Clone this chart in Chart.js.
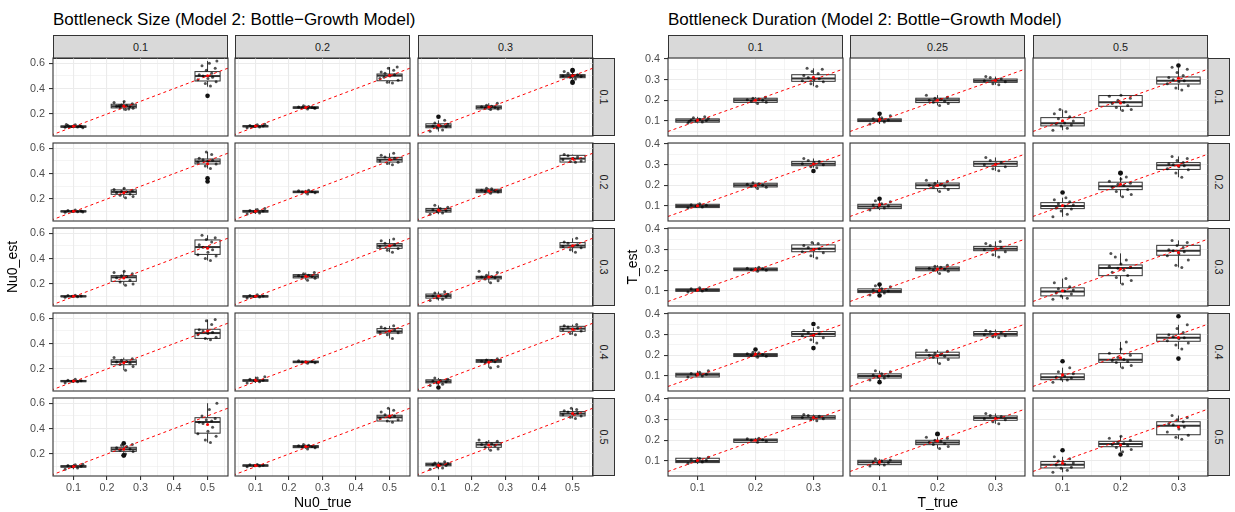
<!DOCTYPE html>
<html>
<head>
<meta charset="utf-8">
<script src="https://cdn.jsdelivr.net/npm/chart.js@4.4.1/dist/chart.umd.min.js"></script>
<style>
html,body{margin:0;padding:0;background:#fff;}
#fig{position:relative;width:1235px;height:512px;overflow:hidden;font-family:"Liberation Sans",Arial,sans-serif;}
#fig canvas{position:absolute;}
.title{position:absolute;font-size:17px;line-height:17px;color:#000;white-space:nowrap;}
.strip{position:absolute;box-sizing:border-box;background:#D9D9D9;border:1px solid #333;color:#1A1A1A;font-size:10.8px;display:flex;align-items:center;justify-content:center;}
.strip.v span{display:block;transform:rotate(90deg);white-space:nowrap;}
.axt{position:absolute;font-size:14px;line-height:16px;white-space:nowrap;color:#000;text-align:center;}
</style>
</head>
<body>
<div id="fig"></div>
<script>
// ---------- facet labels, categories and ticks ----------
const rowLabels = ['0.1', '0.2', '0.3', '0.4', '0.5'];
const sizeColLabels = ['0.1', '0.2', '0.3'];
const durColLabels = ['0.1', '0.25', '0.5'];
const sizeTrue = [0.1, 0.25, 0.5];
const durTrue = [0.1, 0.2, 0.3];
const sizeXTicks = [0.1, 0.2, 0.3, 0.4, 0.5];
const sizeXTickLabels = ['0.1', '0.2', '0.3', '0.4', '0.5'];
const sizeXMinor = [0.05, 0.15, 0.25, 0.35, 0.45, 0.55];
const sizeYTicks = [0.2, 0.4, 0.6];
const sizeYTickLabels = ['0.2', '0.4', '0.6'];
const sizeYMinor = [0.1, 0.3, 0.5];
const durXTicks = [0.1, 0.2, 0.3];
const durXTickLabels = ['0.1', '0.2', '0.3'];
const durXMinor = [0.05, 0.15, 0.25, 0.35];
const durYTicks = [0.1, 0.2, 0.3, 0.4];
const durYTickLabels = ['0.1', '0.2', '0.3', '0.4'];
const durYMinor = [0.05, 0.15, 0.25, 0.35];

// ---------- Bottleneck size: box stats [lower whisker, Q1, median, Q3, upper whisker] per row / column / box ----------
const sizeStats = [
  [[[0.088,0.096,0.101,0.106,0.118],[0.228,0.248,0.261,0.277,0.300],[0.415,0.460,0.499,0.534,0.618]],
   [[0.090,0.099,0.104,0.108,0.120],[0.238,0.245,0.251,0.256,0.268],[0.440,0.462,0.502,0.515,0.570]],
   [[0.062,0.092,0.105,0.123,0.150],[0.232,0.240,0.253,0.264,0.285],[0.470,0.486,0.499,0.510,0.535]]],
  [[[0.092,0.099,0.103,0.107,0.115],[0.210,0.237,0.256,0.272,0.285],[0.440,0.476,0.497,0.515,0.570]],
   [[0.082,0.097,0.104,0.110,0.125],[0.238,0.250,0.256,0.262,0.272],[0.470,0.491,0.510,0.528,0.560]],
   [[0.080,0.097,0.110,0.126,0.150],[0.245,0.250,0.264,0.277,0.285],[0.490,0.491,0.518,0.544,0.550]]],
  [[[0.095,0.100,0.103,0.107,0.112],[0.190,0.221,0.253,0.266,0.300],[0.385,0.433,0.491,0.547,0.584]],
   [[0.090,0.098,0.103,0.108,0.115],[0.230,0.248,0.261,0.274,0.290],[0.450,0.481,0.502,0.518,0.555]],
   [[0.070,0.089,0.105,0.121,0.140],[0.210,0.240,0.253,0.261,0.300],[0.450,0.486,0.502,0.526,0.560]]],
  [[[0.090,0.100,0.105,0.110,0.120],[0.190,0.234,0.256,0.272,0.290],[0.430,0.441,0.483,0.513,0.590]],
   [[0.090,0.104,0.110,0.115,0.140],[0.245,0.250,0.256,0.262,0.268],[0.440,0.483,0.497,0.518,0.540]],
   [[0.070,0.091,0.102,0.115,0.130],[0.210,0.253,0.264,0.274,0.280],[0.470,0.497,0.518,0.536,0.550]]],
  [[[0.080,0.097,0.102,0.108,0.120],[0.200,0.221,0.237,0.253,0.275],[0.290,0.364,0.452,0.486,0.600]],
   [[0.098,0.104,0.110,0.114,0.118],[0.240,0.250,0.258,0.266,0.275],[0.450,0.460,0.489,0.505,0.560]],
   [[0.080,0.107,0.118,0.128,0.140],[0.230,0.253,0.274,0.290,0.310],[0.480,0.500,0.518,0.534,0.560]]]
];
// individual estimates (jittered)
const sizePts = [
  [[[0.095,0.098,0.101,0.104,0.110,0.115,0.092,0.100,0.107,0.118],[0.235,0.245,0.250,0.258,0.262,0.268,0.272,0.280,0.290,0.298,0.240,0.265],[0.420,0.440,0.455,0.470,0.480,0.490,0.500,0.510,0.520,0.545,0.560,0.580,0.600,0.618]],
   [[0.092,0.098,0.102,0.105,0.110,0.115,0.120,0.100],[0.240,0.245,0.250,0.252,0.256,0.260,0.265,0.248],[0.445,0.450,0.465,0.480,0.500,0.510,0.520,0.530,0.545,0.560,0.570,0.490]],
   [[0.065,0.075,0.090,0.100,0.105,0.110,0.120,0.130,0.150],[0.235,0.240,0.248,0.252,0.258,0.262,0.270,0.285],[0.475,0.490,0.495,0.500,0.505,0.510,0.520,0.535]]],
  [[[0.095,0.100,0.103,0.105,0.110,0.113,0.098],[0.210,0.220,0.230,0.240,0.250,0.255,0.260,0.265,0.275,0.285],[0.440,0.460,0.475,0.490,0.500,0.505,0.510,0.520,0.550,0.570]],
   [[0.082,0.090,0.100,0.105,0.110,0.118,0.125],[0.240,0.250,0.255,0.260,0.265,0.270],[0.470,0.480,0.490,0.500,0.510,0.520,0.530,0.545,0.560]],
   [[0.080,0.090,0.100,0.108,0.115,0.125,0.135,0.150],[0.245,0.255,0.260,0.265,0.270,0.280,0.285],[0.490,0.495,0.500,0.510,0.520,0.530,0.540,0.550]]],
  [[[0.096,0.100,0.103,0.105,0.110,0.112],[0.190,0.200,0.215,0.230,0.250,0.260,0.265,0.280,0.290,0.300],[0.385,0.400,0.420,0.430,0.450,0.470,0.490,0.510,0.530,0.550,0.565,0.584]],
   [[0.090,0.097,0.102,0.106,0.110,0.115],[0.230,0.245,0.255,0.260,0.265,0.270,0.280,0.290],[0.450,0.465,0.480,0.495,0.500,0.510,0.520,0.540,0.555]],
   [[0.070,0.080,0.090,0.100,0.105,0.110,0.120,0.130,0.140],[0.210,0.225,0.240,0.250,0.255,0.260,0.270,0.290,0.300],[0.450,0.470,0.485,0.495,0.500,0.510,0.520,0.530,0.560]]],
  [[[0.092,0.100,0.104,0.108,0.112,0.120],[0.190,0.220,0.235,0.245,0.255,0.260,0.270,0.280,0.290],[0.430,0.440,0.450,0.470,0.480,0.490,0.500,0.510,0.550,0.580,0.590]],
   [[0.090,0.100,0.108,0.112,0.120,0.130,0.140],[0.245,0.250,0.255,0.260,0.265],[0.440,0.470,0.485,0.490,0.500,0.510,0.520,0.530,0.540]],
   [[0.070,0.080,0.090,0.100,0.105,0.110,0.120,0.130],[0.210,0.220,0.250,0.258,0.262,0.268,0.272,0.280],[0.470,0.480,0.500,0.510,0.515,0.520,0.530,0.540,0.550]]],
  [[[0.080,0.090,0.100,0.104,0.110,0.115,0.120],[0.200,0.220,0.230,0.240,0.250,0.260,0.270,0.275],[0.290,0.310,0.340,0.360,0.380,0.410,0.440,0.450,0.460,0.470,0.480,0.500,0.550,0.600]],
   [[0.100,0.105,0.108,0.112,0.116,0.118],[0.240,0.250,0.255,0.260,0.265,0.270,0.275],[0.450,0.460,0.470,0.480,0.490,0.500,0.510,0.530,0.545,0.560]],
   [[0.080,0.090,0.100,0.110,0.115,0.120,0.125,0.130,0.140],[0.230,0.240,0.255,0.265,0.275,0.280,0.290,0.300,0.310],[0.480,0.490,0.500,0.510,0.515,0.520,0.530,0.540,0.550,0.560]]]
];
// outlying estimates beyond the whiskers
const sizeOut = [
  [[[],[],[0.343]],[[],[],[]],[[0.179],[],[0.446,0.453,0.547,0.540]]],
  [[[],[],[0.364,0.338]],[[],[],[]],[[],[],[]]],
  [[[],[],[]],[[],[],[]],[[],[],[]]],
  [[[],[],[]],[[],[],[]],[[0.055],[],[]]],
  [[[],[0.190,0.188,0.285],[]],[[],[],[]],[[],[],[]]]
];

// ---------- Bottleneck duration ----------
const durStats = [
  [[[0.088,0.094,0.102,0.110,0.120],[0.185,0.190,0.200,0.210,0.215],[0.268,0.292,0.306,0.324,0.355]],
   [[0.085,0.097,0.103,0.110,0.125],[0.175,0.189,0.200,0.210,0.225],[0.275,0.287,0.295,0.303,0.315]],
   [[0.055,0.076,0.089,0.116,0.155],[0.150,0.171,0.190,0.223,0.225],[0.250,0.279,0.295,0.313,0.360]]],
  [[[0.090,0.092,0.100,0.108,0.112],[0.185,0.192,0.200,0.210,0.212],[0.285,0.295,0.305,0.316,0.330]],
   [[0.080,0.087,0.097,0.108,0.125],[0.170,0.184,0.200,0.211,0.225],[0.270,0.292,0.305,0.316,0.335]],
   [[0.047,0.087,0.100,0.116,0.140],[0.145,0.179,0.195,0.215,0.240],[0.239,0.277,0.297,0.310,0.340]]],
  [[[0.095,0.098,0.105,0.110,0.115],[0.195,0.198,0.205,0.211,0.215],[0.260,0.290,0.305,0.323,0.335]],
   [[0.080,0.092,0.100,0.110,0.125],[0.185,0.198,0.208,0.216,0.225],[0.265,0.295,0.305,0.316,0.340]],
   [[0.060,0.076,0.097,0.115,0.160],[0.134,0.174,0.211,0.226,0.282],[0.214,0.273,0.295,0.321,0.345]]],
  [[[0.095,0.095,0.106,0.113,0.125],[0.190,0.194,0.202,0.208,0.215],[0.260,0.292,0.303,0.315,0.335]],
   [[0.080,0.090,0.100,0.110,0.125],[0.160,0.187,0.200,0.215,0.225],[0.285,0.294,0.303,0.315,0.325]],
   [[0.070,0.082,0.094,0.110,0.140],[0.140,0.166,0.179,0.208,0.265],[0.230,0.268,0.285,0.302,0.348]]],
  [[[0.085,0.092,0.100,0.113,0.120],[0.190,0.190,0.200,0.206,0.212],[0.295,0.303,0.311,0.319,0.325]],
   [[0.075,0.082,0.094,0.103,0.110],[0.160,0.179,0.189,0.200,0.215],[0.280,0.297,0.308,0.318,0.330]],
   [[0.045,0.066,0.082,0.097,0.120],[0.145,0.169,0.182,0.195,0.220],[0.205,0.227,0.271,0.290,0.320]]]
];
const durPts = [
  [[[0.090,0.095,0.100,0.102,0.105,0.108,0.112,0.115,0.120,0.098],[0.185,0.190,0.195,0.200,0.203,0.206,0.210,0.215],[0.268,0.280,0.290,0.295,0.300,0.305,0.310,0.320,0.330,0.340,0.350,0.355]],
   [[0.085,0.095,0.100,0.105,0.110,0.115,0.125],[0.175,0.185,0.190,0.195,0.200,0.205,0.210,0.215,0.225],[0.275,0.280,0.290,0.295,0.300,0.305,0.310,0.315]],
   [[0.055,0.065,0.075,0.080,0.085,0.090,0.100,0.110,0.120,0.135,0.145,0.155],[0.150,0.155,0.165,0.175,0.185,0.190,0.200,0.210,0.220,0.225],[0.250,0.260,0.270,0.280,0.290,0.295,0.300,0.310,0.320,0.335,0.350,0.360]]],
  [[[0.090,0.095,0.100,0.103,0.106,0.110],[0.185,0.190,0.195,0.200,0.205,0.208,0.212],[0.285,0.290,0.300,0.305,0.310,0.315,0.320,0.330]],
   [[0.080,0.090,0.095,0.100,0.105,0.110,0.120,0.125],[0.170,0.180,0.190,0.195,0.200,0.205,0.210,0.220,0.225],[0.270,0.280,0.290,0.300,0.305,0.310,0.320,0.335]],
   [[0.047,0.060,0.075,0.085,0.090,0.100,0.105,0.110,0.120,0.130,0.140],[0.145,0.155,0.170,0.180,0.190,0.200,0.205,0.210,0.220,0.230,0.240],[0.239,0.260,0.275,0.280,0.290,0.295,0.300,0.305,0.310,0.320,0.330,0.340]]],
  [[[0.095,0.100,0.104,0.107,0.110,0.115],[0.195,0.200,0.203,0.207,0.210,0.215],[0.260,0.270,0.285,0.290,0.300,0.305,0.310,0.320,0.330,0.335]],
   [[0.080,0.090,0.095,0.100,0.105,0.110,0.120,0.125],[0.185,0.195,0.200,0.205,0.210,0.215,0.220,0.225],[0.265,0.275,0.290,0.300,0.305,0.310,0.320,0.330,0.340]],
   [[0.060,0.065,0.075,0.085,0.090,0.100,0.105,0.110,0.120,0.140,0.160],[0.134,0.150,0.165,0.175,0.190,0.200,0.210,0.215,0.220,0.230,0.250,0.265,0.282],[0.214,0.225,0.250,0.270,0.280,0.290,0.295,0.300,0.310,0.320,0.335,0.345]]],
  [[[0.095,0.100,0.104,0.108,0.112,0.118,0.125],[0.190,0.195,0.200,0.204,0.207,0.212,0.215],[0.260,0.275,0.285,0.295,0.300,0.305,0.310,0.320,0.335]],
   [[0.080,0.090,0.095,0.100,0.105,0.110,0.120,0.125],[0.160,0.180,0.190,0.195,0.200,0.205,0.210,0.220,0.225],[0.285,0.290,0.295,0.300,0.305,0.310,0.315,0.320]],
   [[0.070,0.080,0.085,0.090,0.095,0.100,0.110,0.120,0.140],[0.140,0.150,0.165,0.170,0.175,0.180,0.190,0.200,0.210,0.230,0.265],[0.230,0.250,0.260,0.270,0.280,0.285,0.290,0.300,0.310,0.330,0.348]]],
  [[[0.088,0.095,0.100,0.103,0.108,0.112,0.118],[0.190,0.195,0.200,0.203,0.207,0.210],[0.295,0.300,0.305,0.310,0.313,0.317,0.320,0.325]],
   [[0.075,0.080,0.088,0.092,0.095,0.100,0.105,0.110],[0.160,0.170,0.180,0.185,0.190,0.195,0.200,0.210,0.215],[0.280,0.290,0.300,0.305,0.310,0.315,0.320,0.330]],
   [[0.045,0.055,0.065,0.070,0.080,0.085,0.090,0.100,0.110,0.120],[0.145,0.155,0.165,0.175,0.180,0.185,0.190,0.200,0.210,0.220],[0.205,0.215,0.225,0.240,0.255,0.265,0.275,0.280,0.290,0.300,0.310,0.320]]]
];
const durOut = [
  [[[],[],[]],[[0.135],[],[]],[[],[],[0.369]]],
  [[[],[],[0.269]],[[0.135],[],[]],[[0.165],[0.261,0.258],[]]],
  [[[],[],[]],[[0.131,0.078],[],[]],[[],[],[]]],
  [[[],[0.228],[0.235,0.352]],[[0.070],[],[]],[[0.171],[],[0.389,0.184]]],
  [[[],[],[]],[[],[0.229,0.232],[]],[[0.152],[0.131],[]]]
];

// ---------- layout ----------
Chart.defaults.font.family = '"Liberation Sans", Arial, sans-serif';
const fig = document.getElementById('fig');
const PW = 175, PH = 78, COL_STEP = 182.3;
const ROW_TOPS = [58, 143, 228, 313, 398];
const BOX_W = 0.075;
const JIT = [-0.83, 0.41, -0.12, 0.76, -0.55, 0.18, 0.93, -0.36, 0.62, -0.71, 0.29, -0.22, 0.85, -0.96, 0.04, 0.5, -0.45];

function tickList(major, minor) {
  return major.map(v => ({value: v, major: true}))
    .concat(minor.map(v => ({value: v, major: false})))
    .sort((a, b) => a.value - b.value);
}

function boxPlugin(cats, stats) {
  return {
    id: 'boxes',
    beforeDatasetsDraw(chart) {
      const {ctx, chartArea: a, scales: {x, y}} = chart;
      ctx.save();
      ctx.beginPath(); ctx.rect(a.left, a.top, a.width, a.height); ctx.clip();
      cats.forEach((c, i) => {
        const [lo, q1, md, q3, hi] = stats[i];
        const xl = x.getPixelForValue(c - BOX_W / 2), xr = x.getPixelForValue(c + BOX_W / 2);
        const xc = x.getPixelForValue(c);
        const yt = y.getPixelForValue(q3), yb = y.getPixelForValue(q1);
        ctx.strokeStyle = '#333'; ctx.lineWidth = 1;
        ctx.beginPath();
        ctx.moveTo(xc, y.getPixelForValue(hi)); ctx.lineTo(xc, yt);
        ctx.moveTo(xc, yb); ctx.lineTo(xc, y.getPixelForValue(lo));
        ctx.stroke();
        ctx.fillStyle = '#fff';
        ctx.fillRect(xl, yt, xr - xl, yb - yt);
        ctx.strokeRect(xl, yt, xr - xl, yb - yt);
        ctx.lineWidth = 2;
        const ym = y.getPixelForValue(md);
        ctx.beginPath(); ctx.moveTo(xl, ym); ctx.lineTo(xr, ym); ctx.stroke();
      });
      ctx.restore();
    },
    afterDraw(chart) {
      const {ctx, chartArea: a} = chart;
      ctx.save();
      ctx.strokeStyle = '#333'; ctx.lineWidth = 1.1;
      ctx.strokeRect(a.left, a.top, a.width, a.height);
      ctx.restore();
    }
  };
}

function scaleOpts(show, pos, range, major, labels, minor, fitSize) {
  return {
    type: 'linear', position: pos, min: range[0], max: range[1],
    afterBuildTicks: ax => { ax.ticks = tickList(major, minor); },
    afterFit: ax => {
      if (pos === 'left') ax.width = show ? fitSize : 0; else ax.height = show ? fitSize : 0;
    },
    ticks: {
      display: show, autoSkip: false, maxRotation: 0, minRotation: 0,
      padding: pos === 'left' ? 4 : 2, color: '#4D4D4D', font: {size: 10.8},
      callback: (v, i, t) => (t[i] && t[i].major) ? labels[major.indexOf(v)] : ''
    },
    grid: {
      color: '#EBEBEB',
      lineWidth: c => (c.tick && c.tick.major) ? 1.1 : 0.55,
      drawTicks: show, tickLength: 4,
      tickColor: c => (c.tick && c.tick.major) ? '#333' : 'rgba(0,0,0,0)',
      tickWidth: 1.1
    },
    border: {display: false}
  };
}

function makePanel(p) {
  const M = 12, YW = 40, XH = 24;
  const cw = PW + 2 * M + (p.showY ? YW : 0);
  const ch = PH + 2 * M + (p.showX ? XH : 0);
  const cv = document.createElement('canvas');
  cv.width = cw; cv.height = ch;
  cv.style.left = (p.left - M - (p.showY ? YW : 0)) + 'px';
  cv.style.top = (p.top - M) + 'px';
  cv.style.width = cw + 'px'; cv.style.height = ch + 'px';
  fig.appendChild(cv);

  const jit = [], outs = [], means = [];
  p.cats.forEach((c, i) => {
    p.pts[i].forEach((v, k) => jit.push({x: c + JIT[(k + i * 5) % JIT.length] * p.jw, y: v}));
    p.outs[i].forEach(v => outs.push({x: c, y: v}));
    const all = p.pts[i].concat(p.outs[i]);
    means.push({x: c, y: all.reduce((s, v) => s + v, 0) / all.length});
  });

  new Chart(cv, {
    type: 'scatter',
    data: {
      datasets: [
        {data: means, pointRadius: 1.5, pointBackgroundColor: '#ff0000', pointBorderWidth: 0, order: 1, clip: 0},
        {data: [{x: 0, y: 0}, {x: 1, y: 1}], showLine: true, borderColor: '#ff0000', borderWidth: 1,
         borderDash: [3, 3], pointRadius: 0, order: 2, clip: 0},
        {data: outs, pointRadius: 2.3, pointBackgroundColor: '#111', pointBorderWidth: 0, order: 3, clip: 0},
        {data: jit, pointRadius: 1.5, pointBackgroundColor: 'rgba(0,0,0,0.68)', pointBorderWidth: 0, order: 4, clip: 0}
      ]
    },
    options: {
      responsive: false, animation: false, events: [],
      layout: {padding: {left: M, right: M, top: M, bottom: M}},
      plugins: {legend: {display: false}, tooltip: {enabled: false}},
      scales: {
        x: scaleOpts(p.showX, 'bottom', p.xr, p.xMaj, p.xLab, p.xMin, XH),
        y: scaleOpts(p.showY, 'left', p.yr, p.yMaj, p.yLab, p.yMin, YW)
      }
    },
    plugins: [boxPlugin(p.cats, p.stats)]
  });
}

function addDiv(cls, text, css) {
  const d = document.createElement('div');
  d.className = cls;
  if (cls.indexOf('v') >= 0) { const s = document.createElement('span'); s.textContent = text; d.appendChild(s); }
  else d.textContent = text;
  Object.assign(d.style, css);
  fig.appendChild(d);
  return d;
}

function makeFacetGrid(g) {
  g.colLabels.forEach((lab, c) => {
    const left = Math.round(g.x0 + c * COL_STEP);
    addDiv('strip', lab, {left: left + 'px', top: '35px', width: PW + 'px', height: '24px'});
  });
  rowLabels.forEach((lab, r) => {
    const left = Math.round(g.x0 + 2 * COL_STEP) + PW - 1;
    addDiv('strip v', lab, {left: left + 'px', top: ROW_TOPS[r] + 'px', width: '23px', height: PH + 'px'});
  });
  for (let r = 0; r < 5; r++) {
    for (let c = 0; c < 3; c++) {
      makePanel({
        left: Math.round(g.x0 + c * COL_STEP), top: ROW_TOPS[r],
        showX: r === 4, showY: c === 0,
        xr: g.xr, yr: g.yr,
        xMaj: g.xMaj, xLab: g.xLab, xMin: g.xMin,
        yMaj: g.yMaj, yLab: g.yLab, yMin: g.yMin,
        cats: g.cats, jw: g.jw,
        stats: g.stats[r][c], pts: g.pts[r][c], outs: g.outs[r][c]
      });
    }
  }
  addDiv('title', g.title, {left: g.x0 + 'px', top: '10.6px'});
  const cx = g.x0 + (2 * COL_STEP + PW) / 2;
  addDiv('axt', g.xTitle, {left: (cx - 60) + 'px', top: '494px', width: '120px'});
  addDiv('axt', g.yTitle, {left: (g.yTitleX - 60) + 'px', top: '259px', width: '120px', transform: 'rotate(-90deg)'});
}

makeFacetGrid({
  title: 'Bottleneck Size (Model 2: Bottle\u2212Growth Model)',
  xTitle: 'Nu0_true', yTitle: 'Nu0_est', yTitleX: 12,
  x0: 53, colLabels: sizeColLabels, cats: sizeTrue, jw: 0.03,
  xr: [0.039, 0.561], yr: [0.027, 0.641],
  xMaj: sizeXTicks, xLab: sizeXTickLabels, xMin: sizeXMinor,
  yMaj: sizeYTicks, yLab: sizeYTickLabels, yMin: sizeYMinor,
  stats: sizeStats, pts: sizePts, outs: sizeOut
});
makeFacetGrid({
  title: 'Bottleneck Duration (Model 2: Bottle\u2212Growth Model)',
  xTitle: 'T_true', yTitle: 'T_est', yTitleX: 632,
  x0: 668, colLabels: durColLabels, cats: durTrue, jw: 0.02,
  xr: [0.049, 0.351], yr: [0.027, 0.405],
  xMaj: durXTicks, xLab: durXTickLabels, xMin: durXMinor,
  yMaj: durYTicks, yLab: durYTickLabels, yMin: durYMinor,
  stats: durStats, pts: durPts, outs: durOut
});
</script>
</body>
</html>
